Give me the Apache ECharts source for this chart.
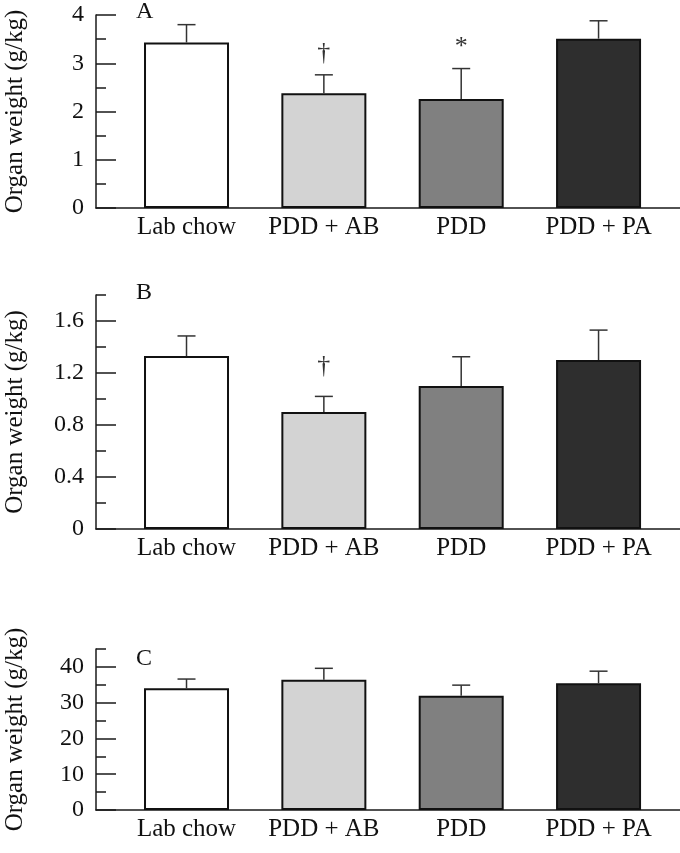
<!DOCTYPE html>
<html>
<head>
<meta charset="utf-8">
<script src="https://cdn.jsdelivr.net/npm/echarts@6/dist/echarts.min.js"></script>
<style>html,body{margin:0;padding:0;background:#fff}#c{width:680px;height:853px}</style>
</head>
<body>
<div id="c"></div>
<script>
// ---- data ----
const categories = ['Lab chow', 'PDD + AB', 'PDD', 'PDD + PA'];
const barColors = ['#ffffff', '#d3d3d3', '#808080', '#2e2e2e'];

const meanA = [3.43, 2.38, 2.26, 3.51];
const semA  = [0.37, 0.38, 0.63, 0.37];
const meanB = [1.33, 0.90, 1.10, 1.30];
const semB  = [0.155, 0.12, 0.225, 0.23];
const meanC = [34.0, 36.4, 31.9, 35.4];
const semC  = [2.6, 3.2, 3.0, 3.4];

const majorTicksA = [0, 1, 2, 3, 4];
const majorTicksB = [0, 0.4, 0.8, 1.2, 1.6];
const majorTicksC = [0, 10, 20, 30, 40];

const markersA = [[1, 3.21], [2, 3.46]];
const markerSymA = ['†', '*'];
const markersB = [[1, 1.256]];
const markerSymB = ['†'];
const markersC = [];
const markerSymC = [];

const panelLetters = ['A', 'B', 'C'];

// ---- layout ----
const FONT = "'Liberation Serif', 'Times New Roman', serif";
const AX = '#1a1a1a';
const panels = [
  {top: 15, height: 193, max: 4, minor: 0.5, majors: majorTicksA, mean: meanA, sem: semA, mk: markersA, ms: markerSymA, letterTop: 0},
  {top: 295, height: 234, max: 1.8, minor: 0.2, majors: majorTicksB, mean: meanB, sem: semB, mk: markersB, ms: markerSymB, letterTop: 281},
  {top: 649, height: 161, max: 45, minor: 5, majors: majorTicksC, mean: meanC, sem: semC, mk: markersC, ms: markerSymC, letterTop: 647}
];

const grid = [], xAxis = [], yAxis = [], series = [], title = [];
panels.forEach((p, i) => {
  grid.push({left: 96, right: 0, top: p.top, height: p.height, containLabel: false, outerBoundsMode: 'none'});
  xAxis.push({
    type: 'value', gridIndex: i, min: -0.659, max: 3.593,
    splitLine: {show: false},
    axisLine: {show: true, onZero: false, lineStyle: {color: AX, width: 1.5}},
    axisTick: {show: false},
    axisLabel: {
      customValues: [0, 1, 2, 3],
      formatter: v => categories[Math.round(v)],
      fontFamily: FONT, fontSize: 25, color: '#111', margin: 7
    }
  });
  // minor-tick axis with axis line
  yAxis.push({
    type: 'value', gridIndex: i, position: 'left', min: 0, max: p.max, interval: p.minor,
    splitLine: {show: false},
    axisLine: {show: true, onZero: false, lineStyle: {color: AX, width: 1.5}},
    axisTick: {show: true, inside: true, length: 10, lineStyle: {color: AX, width: 1.5}},
    axisLabel: {show: false},
    name: 'Organ weight (g/kg)', nameLocation: 'middle', nameGap: 68, nameRotate: 90,
    nameTextStyle: {fontFamily: FONT, fontSize: 25, color: '#111'}
  });
  // major-tick axis with labels
  yAxis.push({
    type: 'value', gridIndex: i, position: 'left', min: 0, max: p.max,
    splitLine: {show: false},
    axisLine: {show: false, onZero: false},
    axisTick: {show: true, inside: true, length: 20, customValues: p.majors, lineStyle: {color: AX, width: 1.5}},
    axisLabel: {customValues: p.majors, fontFamily: FONT, fontSize: 24, color: '#111', margin: 12}
  });
  series.push({
    type: 'bar', xAxisIndex: i, yAxisIndex: 2 * i, barWidth: 85,
    data: p.mean.map((v, k) => ({value: [k, v], itemStyle: {color: barColors[k], borderColor: '#111', borderWidth: 2}})),
    z: 2
  });
  series.push({
    type: 'custom', xAxisIndex: i, yAxisIndex: 2 * i, z: 3,
    encode: {x: 0, y: 1},
    data: p.mean.map((v, k) => [k, v, p.sem[k]]),
    renderItem: (params, api) => {
      const x = api.value(0), m = api.value(1), e = api.value(2);
      const p0 = api.coord([x, m]);
      const p1 = api.coord([x, m + e]);
      const cap = 9;
      const st = {stroke: '#333', lineWidth: 1.5};
      return {type: 'group', children: [
        {type: 'line', shape: {x1: p0[0], y1: p0[1], x2: p1[0], y2: p1[1]}, style: st},
        {type: 'line', shape: {x1: p1[0] - cap, y1: p1[1], x2: p1[0] + cap, y2: p1[1]}, style: st}
      ]};
    }
  });
  if (p.mk.length) {
    series.push({
      type: 'custom', xAxisIndex: i, yAxisIndex: 2 * i, z: 4,
      encode: {x: 0, y: 1},
      data: p.mk,
      renderItem: (params, api) => {
        const pt = api.coord([api.value(0), api.value(1)]);
        const sym = p.ms[params.dataIndex];
        const off = sym === '*' ? 6 : 0;
        return {type: 'text', x: pt[0], y: pt[1] + off,
          style: {text: sym, fontFamily: FONT, fontSize: 26, fill: '#333', align: 'center', verticalAlign: 'middle'}};
      }
    });
  }
  title.push({text: panelLetters[i], left: 136, top: p.letterTop, padding: 0,
    textStyle: {fontFamily: FONT, fontSize: 24, fontWeight: 'normal', color: '#111'}});
});

const chart = echarts.init(document.getElementById('c'), null, {renderer: 'canvas'});
chart.setOption({animation: false, backgroundColor: '#fff', title, grid, xAxis, yAxis, series});
</script>
</body>
</html>
